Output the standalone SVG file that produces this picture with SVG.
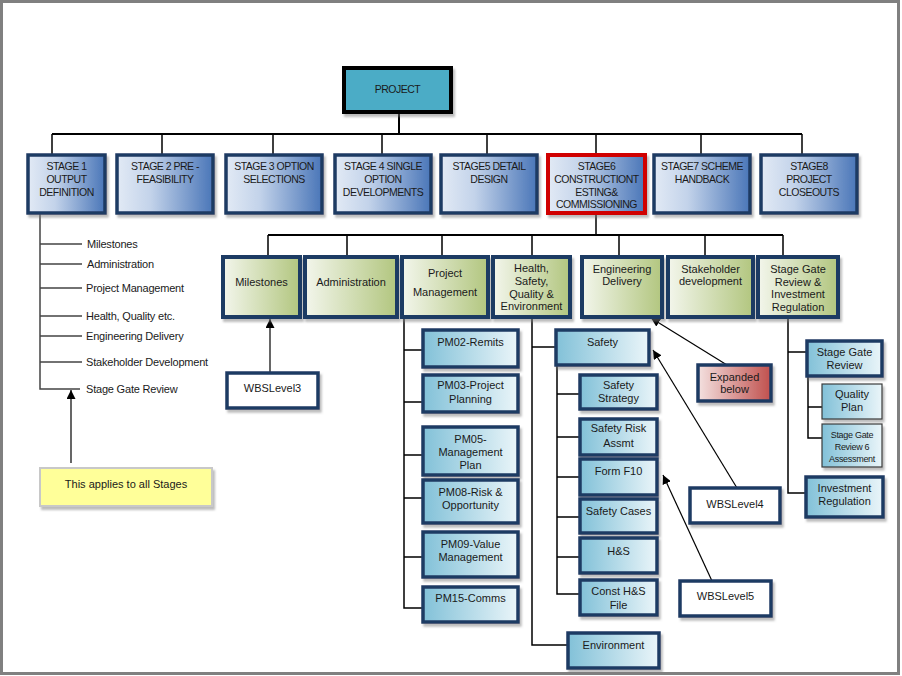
<svg xmlns="http://www.w3.org/2000/svg" width="902" height="676" viewBox="0 0 902 676">
<defs>
<linearGradient id="gStage" x1="0" y1="0" x2="1" y2="0"><stop offset="0" stop-color="#e2eaf5"/><stop offset="0.35" stop-color="#c3d3ea"/><stop offset="1" stop-color="#4a76b8"/></linearGradient>
<linearGradient id="gL2" x1="0" y1="0" x2="1" y2="0"><stop offset="0" stop-color="#f3f6ec"/><stop offset="1" stop-color="#b2c67f"/></linearGradient>
<linearGradient id="gTeal" x1="0" y1="0" x2="1" y2="0"><stop offset="0" stop-color="#82c1d8"/><stop offset="1" stop-color="#eaf5f9"/></linearGradient>
<linearGradient id="gRed" x1="0" y1="0" x2="1" y2="0"><stop offset="0" stop-color="#f4e1e0"/><stop offset="1" stop-color="#c0504d"/></linearGradient>
<filter id="sh" x="-10%" y="-10%" width="130%" height="140%"><feDropShadow dx="2" dy="3" stdDeviation="1" flood-color="#7a7a7a" flood-opacity="0.5"/></filter>
<marker id="ah" viewBox="0 0 10 10" refX="10" refY="5" markerWidth="9" markerHeight="9" markerUnits="userSpaceOnUse" orient="auto"><path d="M0,0 L10,5 L0,10 z" fill="#000"/></marker>
</defs>
<style>
text{font-family:"Liberation Sans",Arial,sans-serif;font-size:11px;fill:#1a1a1a;text-anchor:middle}
.st{font-size:10.5px;letter-spacing:-0.5px}
.lt{text-anchor:start;letter-spacing:-0.2px}
.sm{font-size:9px;letter-spacing:-0.3px}
.stage{fill:url(#gStage);stroke:#1f3a63;stroke-width:3.5;filter:url(#sh)}
.red{stroke:#d00000;stroke-width:4}
.l2{fill:url(#gL2);stroke:#1f3a63;stroke-width:4;filter:url(#sh)}
.tl{fill:url(#gTeal);stroke:#1f3a63;stroke-width:3.5;filter:url(#sh)}
.thin{fill:url(#gTeal);stroke:#3a3a3a;stroke-width:1.2;filter:url(#sh)}
.wbs{fill:#fff;stroke:#1f3a63;stroke-width:3.5;filter:url(#sh)}
.rd{fill:url(#gRed);stroke:#1f3a63;stroke-width:3.5;filter:url(#sh)}
.c{fill:none;stroke:#000;stroke-width:1.5}
.cb{fill:none;stroke:#000;stroke-width:2}
.cg{fill:none;stroke:#444;stroke-width:1.5}
.ar{fill:none;stroke:#000;stroke-width:1.2;marker-end:url(#ah)}
</style>
<rect x="1.5" y="1.5" width="897" height="672" fill="#fff" stroke="#808080" stroke-width="3"/>

<g id="connectors">
<path class="cb" d="M399,112 V134 M52,134 H802"/>
<path class="c" d="M52,134 V155 M162,134 V155 M273,134 V155 M382,134 V155 M487,134 V155 M596,134 V155 M701,134 V155 M802,134 V155"/>
<path class="c" d="M596,213 V235"/>
<path class="cb" d="M268,235 H783"/>
<path class="c" d="M268,235 V257 M347,235 V257 M442,235 V257 M532,235 V257 M619,235 V257 M705,235 V257 M783,235 V257"/>
<path class="cg" d="M40,213 V389 H80 M40,244 H82 M40,264 H82 M40,288 H82 M40,316 H82 M40,336 H82 M40,362 H82"/>
<path class="c" d="M404,317 V608 H423 M404,350 H423 M404,402 H423 M404,455 H423 M404,498 H423 M404,557 H423"/>
<path class="c" d="M532,317 V645 H568 M532,347 H556"/>
<path class="c" d="M557,365 V594 H580 M557,394 H580 M557,437 H580 M557,477 H580 M557,517 H580 M557,557 H580"/>
<path class="c" d="M788,317 V493 H806 M788,352 H807"/>
<path class="c" d="M808,376 V438 H822 M808,407 H822"/>
<path class="ar" d="M71,463 V390"/>
<path class="ar" d="M270,373 V319"/>
<path class="ar" d="M727,365 L651,318"/>
<path class="ar" d="M737,488 L653,350"/>
<path class="ar" d="M712,581 L663,475"/>
</g>

<g id="project"><rect x="344" y="68" width="107" height="44" fill="#4bacc6" stroke="#000" stroke-width="4" filter="url(#sh)"/><text x="397.5" y="93" class="st">PROJECT</text></g>

<g id="stage1"><rect class="stage" x="28" y="155" width="77" height="58"/><text class="st" x="66.5" y="170">STAGE 1</text><text class="st" x="66.5" y="183">OUTPUT</text><text class="st" x="66.5" y="196">DEFINITION</text></g>
<g id="stage2"><rect class="stage" x="117" y="155" width="96" height="58"/><text class="st" x="165" y="170">STAGE 2 PRE -</text><text class="st" x="165" y="183">FEASIBILITY</text></g>
<g id="stage3"><rect class="stage" x="226" y="155" width="96" height="58"/><text class="st" x="274" y="170">STAGE 3 OPTION</text><text class="st" x="274" y="183">SELECTIONS</text></g>
<g id="stage4"><rect class="stage" x="335" y="155" width="96" height="58"/><text class="st" x="383" y="170">STAGE 4 SINGLE</text><text class="st" x="383" y="183">OPTION</text><text class="st" x="383" y="196">DEVELOPMENTS</text></g>
<g id="stage5"><rect class="stage" x="441" y="155" width="96" height="58"/><text class="st" x="489" y="170">STAGE5 DETAIL</text><text class="st" x="489" y="183">DESIGN</text></g>
<g id="stage6"><rect class="stage red" x="548" y="155" width="97" height="58"/><text class="st" x="596.5" y="170">STAGE6</text><text class="st" x="596.5" y="183">CONSTRUCTIONT</text><text class="st" x="596.5" y="196">ESTING&amp;</text><text class="st" x="596.5" y="208">COMMISSIONING</text></g>
<g id="stage7"><rect class="stage" x="654" y="155" width="96" height="58"/><text class="st" x="702" y="170">STAGE7 SCHEME</text><text class="st" x="702" y="183">HANDBACK</text></g>
<g id="stage8"><rect class="stage" x="761" y="155" width="96" height="58"/><text class="st" x="809" y="170">STAGE8</text><text class="st" x="809" y="183">PROJECT</text><text class="st" x="809" y="196">CLOSEOUTS</text></g>

<g id="list">
<text class="lt" x="87" y="248">Milestones</text>
<text class="lt" x="87" y="268">Administration</text>
<text class="lt" x="86" y="292">Project Management</text>
<text class="lt" x="86" y="320">Health, Quality etc.</text>
<text class="lt" x="86" y="340">Engineering Delivery</text>
<text class="lt" x="86" y="366">Stakeholder Development</text>
<text class="lt" x="86" y="393">Stage Gate Review</text>
</g>
<g id="note"><rect x="40" y="468" width="172" height="38" fill="#ffff99" stroke="#c8c8c8" stroke-width="2" filter="url(#sh)"/><text x="126" y="488">This applies to all Stages</text></g>

<g id="milestones"><rect class="l2" x="223" y="257" width="77" height="60"/><text x="261.5" y="286">Milestones</text></g>
<g id="administration"><rect class="l2" x="305" y="257" width="92" height="60"/><text x="351" y="286">Administration</text></g>
<g id="pm"><rect class="l2" x="402" y="257" width="86" height="60"/><text x="445" y="277">Project</text><text x="445" y="296">Management</text></g>
<g id="hsqe"><rect class="l2" x="493" y="257" width="77" height="60"/><text x="531.5" y="272">Health,</text><text x="531.5" y="285">Safety,</text><text x="531.5" y="298">Quality &amp;</text><text x="531.5" y="310">Environment</text></g>
<g id="engdel"><rect class="l2" x="582" y="257" width="80" height="60"/><text x="622" y="273">Engineering</text><text x="622" y="285">Delivery</text></g>
<g id="stakeholder"><rect class="l2" x="668" y="257" width="85" height="60"/><text x="710.5" y="273">Stakeholder</text><text x="710.5" y="285">development</text></g>
<g id="stagegate"><rect class="l2" x="758" y="257" width="80" height="60"/><text x="798" y="273">Stage Gate</text><text x="798" y="286">Review &amp;</text><text x="798" y="298">Investment</text><text x="798" y="311">Regulation</text></g>

<g id="wbs3"><rect class="wbs" x="227" y="373" width="91" height="35"/><text x="272.5" y="392">WBSLevel3</text></g>

<g id="pm02"><rect class="tl" x="423" y="330" width="95" height="37"/><text x="470.5" y="346">PM02-Remits</text></g>
<g id="pm03"><rect class="tl" x="423" y="375" width="95" height="37"/><text x="470.5" y="389">PM03-Project</text><text x="470.5" y="403">Planning</text></g>
<g id="pm05"><rect class="tl" x="423" y="427" width="95" height="48"/><text x="470.5" y="443">PM05-</text><text x="470.5" y="456">Management</text><text x="470.5" y="469">Plan</text></g>
<g id="pm08"><rect class="tl" x="423" y="480" width="95" height="43"/><text x="470.5" y="496">PM08-Risk &amp;</text><text x="470.5" y="509">Opportunity</text></g>
<g id="pm09"><rect class="tl" x="423" y="532" width="95" height="45"/><text x="470.5" y="548">PM09-Value</text><text x="470.5" y="561">Management</text></g>
<g id="pm15"><rect class="tl" x="423" y="587" width="95" height="35"/><text x="470.5" y="602">PM15-Comms</text></g>

<g id="safety"><rect class="tl" x="556" y="330" width="93" height="35"/><text x="602.5" y="346">Safety</text></g>
<g id="safetystrategy"><rect class="tl" x="580" y="375" width="77" height="34"/><text x="618.5" y="389">Safety</text><text x="618.5" y="402">Strategy</text></g>
<g id="safetyrisk"><rect class="tl" x="580" y="419" width="77" height="36"/><text x="618.5" y="432">Safety Risk</text><text x="618.5" y="447">Assmt</text></g>
<g id="formf10"><rect class="tl" x="580" y="459" width="77" height="36"/><text x="618.5" y="475">Form F10</text></g>
<g id="safetycases"><rect class="tl" x="580" y="499" width="77" height="34"/><text x="618.5" y="515">Safety Cases</text></g>
<g id="hs"><rect class="tl" x="580" y="538" width="77" height="35"/><text x="618.5" y="555">H&amp;S</text></g>
<g id="consths"><rect class="tl" x="580" y="580" width="77" height="35"/><text x="618.5" y="595">Const H&amp;S</text><text x="618.5" y="609">File</text></g>
<g id="environment"><rect class="tl" x="568" y="633" width="91" height="35"/><text x="613.5" y="649">Environment</text></g>

<g id="expanded"><rect class="rd" x="698" y="365" width="73" height="36"/><text x="734.5" y="381">Expanded</text><text x="734.5" y="393">below</text></g>
<g id="wbs4"><rect class="wbs" x="690" y="488" width="90" height="35"/><text x="735" y="508">WBSLevel4</text></g>
<g id="wbs5"><rect class="wbs" x="680" y="581" width="91" height="35"/><text x="725.5" y="600">WBSLevel5</text></g>

<g id="sgreview"><rect class="tl" x="807" y="341" width="75" height="35"/><text x="844.5" y="356">Stage Gate</text><text x="844.5" y="369">Review</text></g>
<g id="qualityplan"><rect class="thin" x="822" y="384" width="60" height="35"/><text x="852" y="398">Quality</text><text x="852" y="411">Plan</text></g>
<g id="sgr6"><rect class="thin" x="822" y="424" width="60" height="43"/><text class="sm" x="852" y="438">Stage Gate</text><text class="sm" x="852" y="450">Review 6</text><text class="sm" x="852" y="462">Assessment</text></g>
<g id="investment"><rect class="tl" x="806" y="477" width="77" height="40"/><text x="844.5" y="492">Investment</text><text x="844.5" y="505">Regulation</text></g>
</svg>
